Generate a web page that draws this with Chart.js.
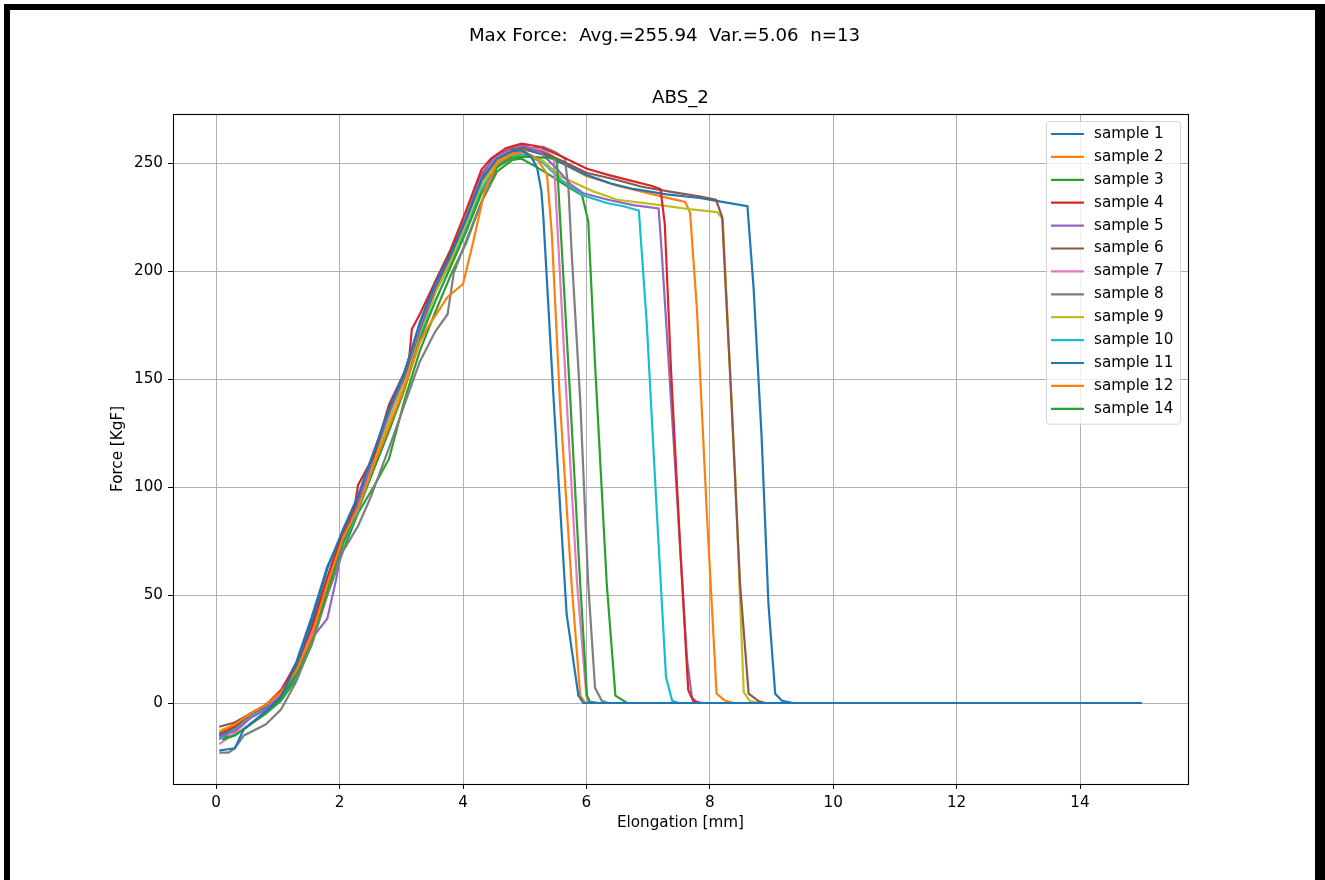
<!DOCTYPE html>
<html>
<head>
<meta charset="utf-8">
<title>ABS_2</title>
<script src="https://cdn.jsdelivr.net/npm/chart.js@4.4.1/dist/chart.umd.min.js"></script>
<style>
  html, body { margin: 0; padding: 0; background: #fff; }
  #wrap { position: relative; width: 1325px; height: 880px; overflow: hidden; }
  .edge { position: absolute; background: #000; }
</style>
</head>
<body>
<div id="wrap">
  <canvas id="forceChart" width="1325" height="880"></canvas>
  <div class="edge" style="left:4px;top:4px;width:1321px;height:6px"></div>
  <div class="edge" style="left:4px;top:4px;width:6px;height:876px"></div>
  <div class="edge" style="left:1315px;top:4px;width:10px;height:876px"></div>
</div>
<script>
// elongation [mm], force [KgF] pairs per tested sample
const sample1 = [[0.05,-22],[0.3,-21],[0.45,-12],[0.8,-4],[1.05,3],[1.3,18],[1.55,38],[1.8,62],[2.05,80],[2.3,96],[2.55,116],[2.8,136],[3.05,153],[3.3,176],[3.55,194],[3.8,208],[4.05,224],[4.3,242],[4.55,252],[4.8,255.5],[4.95,256],[5.1,253],[5.2,248],[5.27,237],[5.3,226],[5.47,140],[5.68,41],[5.87,3.4],[5.95,0],[15,0]];
const sample2 = [[0.08,-13],[0.3,-10],[0.55,-5],[0.8,-1],[1.05,5],[1.3,15],[1.55,31],[1.8,55],[2.05,76],[2.3,90],[2.55,110],[2.8,128],[3.05,146],[3.3,167],[3.45,175],[3.75,188],[4.0,194],[4.17,214],[4.35,237],[4.55,250],[4.8,254],[5.0,255],[5.2,252],[5.36,245],[5.44,217],[5.57,140],[5.76,55],[5.9,3.4],[5.98,0],[15,0]];
const sample3 = [[0.1,-17],[0.3,-15],[0.55,-10],[0.8,-4],[1.05,2],[1.3,13],[1.55,30],[1.8,52],[2.05,74],[2.3,90],[2.55,108],[2.8,126],[3.05,145],[3.3,168],[3.55,186],[3.8,202],[4.05,218],[4.3,236],[4.55,248],[4.8,252.5],[5.0,253],[5.3,252.5],[5.52,252],[5.57,226],[5.74,140],[5.9,55],[6.01,3.4],[6.06,0.5],[6.2,0],[15,0]];
const sample4 = [[0.05,-14],[0.3,-11],[0.55,-5],[0.8,-1],[1.05,6],[1.3,18],[1.55,35],[1.8,58],[2.05,79],[2.25,92],[2.3,101],[2.55,114],[2.8,138],[3.05,153],[3.13,160],[3.17,173],[3.3,180],[3.55,195],[3.8,210],[4.05,228],[4.3,247],[4.45,252],[4.7,257],[4.95,259],[5.25,257.5],[5.6,253],[6.0,247.5],[6.35,244.5],[6.7,242],[7.05,239.5],[7.2,238],[7.27,222],[7.37,155],[7.52,72],[7.65,6],[7.73,1],[7.85,0],[15,0]];
const sample5 = [[0.05,-16],[0.3,-13],[0.55,-7],[0.8,-3],[1.05,3],[1.3,14],[1.55,30],[1.8,39],[1.95,58],[2.05,74],[2.3,92],[2.55,114],[2.8,134],[3.05,152],[3.3,174],[3.55,193],[3.8,208],[4.05,225],[4.3,245],[4.55,254],[4.8,257.5],[5.0,258],[5.25,255],[5.5,248],[5.75,240],[5.95,236],[6.35,233],[6.76,230.5],[7.17,229],[7.22,209],[7.41,123],[7.63,20.5],[7.71,2.6],[7.79,0.3],[7.9,0],[15,0]];
const sample6 = [[0.05,-11],[0.3,-9],[0.55,-5],[0.8,-1],[1.05,5],[1.3,17],[1.55,36],[1.8,58],[2.05,76],[2.3,94],[2.55,115],[2.8,135],[3.05,151],[3.3,173],[3.55,192],[3.8,207],[4.05,224],[4.3,244],[4.5,253],[4.75,256.5],[5.0,257],[5.3,255],[5.6,251],[6.0,245.5],[6.45,242.5],[6.9,239],[7.4,236.5],[7.85,234.5],[8.1,233],[8.2,225],[8.35,140],[8.49,55],[8.63,4.3],[8.79,0.9],[8.9,0],[15,0]];
const sample7 = [[0.05,-19],[0.3,-14],[0.55,-7],[0.8,-3],[1.05,4],[1.3,15],[1.55,33],[1.8,56],[2.05,77],[2.3,95],[2.55,116],[2.8,135],[3.05,153],[3.3,175],[3.55,194],[3.8,208],[4.05,225],[4.3,244],[4.55,253],[4.8,256.5],[5.05,257],[5.3,256],[5.47,253],[5.52,226],[5.68,140],[5.85,55],[6.0,3.4],[6.03,0.5],[6.15,0],[15,0]];
const sample8 = [[0.05,-23],[0.2,-23],[0.3,-21],[0.45,-15],[0.8,-10],[1.05,-3],[1.3,10],[1.55,28],[1.8,50],[2.05,70],[2.3,82],[2.5,95],[2.8,118],[3.05,138],[3.3,158],[3.55,172],[3.75,180],[3.85,199],[4.05,214],[4.3,232],[4.55,248],[4.8,254],[5.05,256.5],[5.3,257.5],[5.5,255],[5.65,252],[5.71,238],[5.76,209],[5.9,140],[6.03,55],[6.14,7],[6.25,1],[6.35,0],[15,0]];
const sample9 = [[0.05,-13],[0.3,-10],[0.55,-5],[0.8,-1],[1.05,5],[1.3,16],[1.55,33],[1.8,57],[2.0,74],[2.05,79],[2.3,92],[2.55,111],[2.8,131],[3.05,149],[3.3,172],[3.55,190],[3.8,205],[4.05,222],[4.3,240],[4.55,250],[4.8,254.5],[5.0,255],[5.3,251],[5.57,244],[6.1,237],[6.5,233],[7.2,230.5],[7.7,228.5],[8.12,227.3],[8.21,224],[8.41,106],[8.55,5],[8.65,0.9],[8.8,0],[15,0]];
const sample10 = [[0.05,-17],[0.3,-12],[0.55,-6],[0.8,-3],[1.05,2],[1.3,12],[1.55,29],[1.8,52],[2.05,73],[2.3,89],[2.55,108],[2.8,126],[3.05,146],[3.3,170],[3.55,190],[3.8,204],[4.05,220],[4.3,238],[4.55,249],[4.8,253.5],[5.0,254],[5.3,250],[5.6,242],[5.95,235],[6.33,231.5],[6.6,230],[6.85,228],[6.98,175],[7.14,89],[7.29,12],[7.39,1],[7.5,0],[15,0]];
const sample11 = [[0.05,-15],[0.3,-12],[0.55,-6],[0.8,-2],[1.05,5],[1.3,19],[1.55,40],[1.8,63],[2.05,79],[2.3,93],[2.55,113],[2.8,134],[3.05,152],[3.3,176],[3.55,195],[3.8,209],[4.05,224],[4.3,243],[4.55,253],[4.8,256],[5.05,256],[5.3,254],[5.6,250],[6.0,244.5],[6.4,240.5],[6.76,238],[7.3,235.5],[7.84,233.8],[8.2,232],[8.61,230],[8.71,192],[8.84,123],[8.95,46],[9.06,4.3],[9.17,1],[9.35,0],[15,0]];
const sample12 = [[0.05,-15],[0.3,-12],[0.55,-7],[0.8,-2],[1.05,4],[1.3,15],[1.55,33],[1.8,56],[2.05,77],[2.3,91],[2.55,111],[2.8,131],[3.05,149],[3.3,171],[3.55,190],[3.8,205],[4.05,221],[4.3,240],[4.55,251],[4.8,255],[5.05,256],[5.3,254],[5.6,250],[6.0,244],[6.5,239.5],[7.0,236],[7.3,234],[7.6,232],[7.68,227],[7.79,183],[7.95,89],[8.11,4.3],[8.25,1],[8.4,0],[15,0]];
const sample14 = [[0.1,-16],[0.3,-15],[0.55,-10],[0.8,-5],[1.05,1],[1.3,11],[1.55,27],[1.8,50],[2.05,70],[2.3,88],[2.55,100],[2.8,113],[3.05,140],[3.3,163],[3.55,181],[3.8,198],[4.05,213],[4.3,232],[4.55,246],[4.8,251.5],[4.95,252],[5.2,248],[5.46,243.5],[5.7,239],[5.93,235],[6.03,223],[6.14,157],[6.33,55],[6.47,3.4],[6.66,0],[15,0]];

const sampleLabels = ["sample 1", "sample 2", "sample 3", "sample 4", "sample 5", "sample 6", "sample 7",
  "sample 8", "sample 9", "sample 10", "sample 11", "sample 12", "sample 14"];
const sampleData = [sample1, sample2, sample3, sample4, sample5, sample6, sample7,
  sample8, sample9, sample10, sample11, sample12, sample14];
const tab10 = ["#1f77b4", "#ff7f0e", "#2ca02c", "#d62728", "#9467bd", "#8c564b", "#e377c2",
  "#7f7f7f", "#bcbd22", "#17becf"];

const xTicks = [0, 2, 4, 6, 8, 10, 12, 14];
const yTicks = [0, 50, 100, 150, 200, 250];
const figTitle = "Max Force:  Avg.=255.94  Var.=5.06  n=13";
const axTitle = "ABS_2";

const FONT = "'DejaVu Sans', sans-serif";
const FS = 15.2;
const TITLE_FS = 18.2;

// axes frame, titles and an in-plot legend box
const decorations = {
  id: "decorations",
  afterDatasetsDraw(chart) {
    const { ctx, chartArea: a } = chart;
    ctx.save();
    ctx.strokeStyle = "#000";
    ctx.lineWidth = 1.1;
    ctx.strokeRect(Math.round(a.left) + 0.5, Math.round(a.top) + 0.5,
      Math.round(a.right - a.left), Math.round(a.bottom - a.top));
    ctx.restore();
  },
  afterDraw(chart) {
    const { ctx, chartArea: a } = chart;
    ctx.save();
    ctx.fillStyle = "#000";
    ctx.textAlign = "center";
    ctx.textBaseline = "alphabetic";
    ctx.font = `${TITLE_FS}px ${FONT}`;
    ctx.fillText(figTitle, chart.width / 2 + 2, 41);
    ctx.fillText(axTitle, (a.left + a.right) / 2, 103);

    const sets = chart.data.datasets;
    const rowH = 22.9;
    const boxR = a.right - 8;
    const boxL = boxR - 134;
    const boxT = a.top + 7;
    const boxB = boxT + rowH * sets.length + 5;
    ctx.beginPath();
    ctx.roundRect(boxL + 0.5, boxT + 0.5, boxR - boxL, boxB - boxT, 3);
    ctx.fillStyle = "rgba(255,255,255,0.8)";
    ctx.fill();
    ctx.strokeStyle = "rgba(204,204,204,0.8)";
    ctx.lineWidth = 1;
    ctx.stroke();

    ctx.font = `${FS}px ${FONT}`;
    ctx.textAlign = "left";
    ctx.textBaseline = "middle";
    sets.forEach((ds, i) => {
      const y = boxT + 13 + i * rowH;
      ctx.beginPath();
      ctx.moveTo(boxL + 5, y);
      ctx.lineTo(boxL + 38, y);
      ctx.strokeStyle = ds.borderColor;
      ctx.lineWidth = 2.2;
      ctx.stroke();
      ctx.fillStyle = "#000";
      ctx.fillText(ds.label, boxL + 48, y);
    });
    ctx.restore();
  }
};

const ctx = document.getElementById("forceChart").getContext("2d");
new Chart(ctx, {
  type: "line",
  data: {
    datasets: sampleData.map((pts, i) => ({
      label: sampleLabels[i],
      data: pts.map(p => ({ x: p[0], y: p[1] })),
      borderColor: tab10[i % 10],
      backgroundColor: tab10[i % 10],
      borderWidth: 2.2,
      pointRadius: 0,
      tension: 0,
      fill: false
    }))
  },
  options: {
    responsive: false,
    animation: false,
    devicePixelRatio: 1,
    layout: { padding: { left: 0, top: 114, right: 137, bottom: 0 } },
    plugins: { legend: { display: false }, tooltip: { enabled: false } },
    scales: {
      x: {
        type: "linear",
        min: -0.7,
        max: 15.75,
        afterBuildTicks: s => { s.ticks = xTicks.map(v => ({ value: v })); },
        afterFit: s => { s.height = 96; },
        grid: { color: "#b0b0b0", lineWidth: 1, tickColor: "#000", tickLength: 5 },
        border: { color: "#000", width: 1 },
        ticks: { color: "#000", padding: 5, maxRotation: 0, font: { family: FONT, size: FS } },
        title: {
          display: true, text: "Elongation [mm]", color: "#000",
          font: { family: FONT, size: FS }, padding: { top: 0, bottom: 47.9 }
        }
      },
      y: {
        type: "linear",
        min: -37.5,
        max: 272.7,
        afterBuildTicks: s => { s.ticks = yTicks.map(v => ({ value: v })); },
        afterFit: s => { s.width = 173; },
        grid: { color: "#b0b0b0", lineWidth: 1, tickColor: "#000", tickLength: 5 },
        border: { color: "#000", width: 1 },
        ticks: { color: "#000", padding: 5, font: { family: FONT, size: FS } },
        title: {
          display: true, text: "Force [KgF]", color: "#000",
          font: { family: FONT, size: FS }, padding: { top: 108.9, bottom: 0 }
        }
      }
    }
  },
  plugins: [decorations]
});
</script>
</body>
</html>
